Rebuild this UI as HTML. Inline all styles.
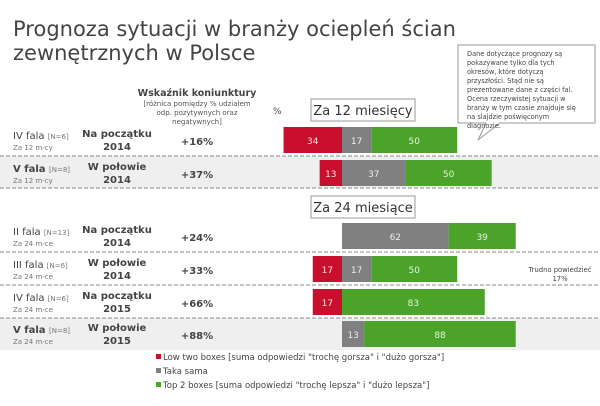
<!DOCTYPE html>
<html><head><meta charset="utf-8"><style>
body{margin:0;background:#fff;}
svg{display:block;font-family:"DejaVu Sans","Liberation Sans",sans-serif;}
</style></head><body>
<svg id="chart" width="600" height="406" viewBox="0 0 600 406" xmlns="http://www.w3.org/2000/svg">
<text x="13" y="36" font-size="21" fill="#444">Prognoza sytuacji w branży ociepleń ścian</text>
<text x="13" y="60" font-size="21" fill="#444">zewnętrznych w Polsce</text>
<rect x="0" y="156" width="600" height="32" fill="#efefef"/>
<rect x="0" y="318" width="600" height="32" fill="#efefef"/>
<g font-size="7" fill="#555" text-anchor="middle">
<text x="197" y="96" font-size="9.5" font-weight="bold" fill="#444">Wskaźnik koniunktury</text>
<text x="197" y="106">[różnica pomiędzy % udziałem</text>
<text x="197" y="115">odp. pozytywnych oraz</text>
<text x="197" y="124">negatywnych]</text>
</g>
<text x="273" y="114" font-size="9" fill="#444">%</text>
<rect x="311" y="99" width="104" height="22" fill="#fff" stroke="#999"/>
<text x="363" y="115" font-size="13" text-anchor="middle" fill="#333">Za 12 miesięcy</text>
<rect x="311" y="196" width="104" height="22" fill="#fff" stroke="#999"/>
<text x="363" y="212" font-size="13" text-anchor="middle" fill="#333">Za 24 miesiące</text>
<g>
<path d="M458,45 H595 V123 H500 L478,140 L486,123 H458 Z" fill="#fff" stroke="#999"/>
<g font-size="6.6" fill="#444">
<text x="467" y="56">Dane dotyczące prognozy są</text>
<text x="467" y="65">pokazywane tylko dla tych</text>
<text x="467" y="74">okresów, które dotyczą</text>
<text x="467" y="83">przyszłości. Stąd nie są</text>
<text x="467" y="92">prezentowane dane z części fal.</text>
<text x="467" y="101">Ocena rzeczywistej sytuacji w</text>
<text x="467" y="110">branży w tym czasie znajduje się</text>
<text x="467" y="119">na slajdzie poświęconym</text>
<text x="467" y="128">diagnozie.</text>
</g></g>
<g font-size="6.8" fill="#444" text-anchor="middle">
<text x="560" y="272">Trudno powiedzieć</text><text x="560" y="281">17%</text>
</g>
<g id="rows"></g>
<g font-size="8.5" fill="#444">
<rect x="156" y="354" width="5" height="5" fill="#c8102e"/><text x="163" y="360">Low two boxes [suma odpowiedzi "trochę gorsza" i "dużo gorsza"]</text>
<rect x="156" y="368" width="5" height="5" fill="#808080"/><text x="163" y="374">Taka sama</text>
<rect x="156" y="382" width="5" height="5" fill="#4ca32a"/><text x="163" y="388">Top 2 boxes [suma odpowiedzi "trochę lepsza" i "dużo lepsza"]</text>
</g>
</svg>
<script>
const waves=["IV fala","V fala","II fala","III fala","IV fala","V fala"];
const sizes=["[N=6]","[N=8]","[N=13]","[N=6]","[N=6]","[N=8]"];
const horizons=["Za 12 m-cy","Za 12 m-cy","Za 24 m-ce","Za 24 m-ce","Za 24 m-ce","Za 24 m-ce"];
const periods=["Na początku","W połowie","Na początku","W połowie","Na początku","W połowie"];
const years=["2014","2014","2014","2014","2015","2015"];
const indicators=["+16%","+37%","+24%","+33%","+66%","+88%"];
const lowVals=[34,13,0,17,17,0];
const sameVals=[17,37,62,17,0,13];
const topVals=[50,50,39,50,83,88];
const boldWave=[false,true,false,false,false,true];
const NS="http://www.w3.org/2000/svg";
const g=document.getElementById('rows');
const anchorX=342, scale=1.72;
function x(v){return anchorX+v*scale;}
const rowTops=[127,160,223,256,289,321];
function mk(t,a,p){const e=document.createElementNS(NS,t);for(const k in a)e.setAttribute(k,a[k]);(p||g).appendChild(e);return e;}
function txt(s,a,p){const e=mk('text',a,p);e.textContent=s;return e;}
const cols={low:"#c8102e",same:"#808080",top:"#4ca32a"};
for(let i=0;i<waves.length;i++){
  const y=rowTops[i];
  const row=mk('g',{});
  
  
  const w=txt('',{x:13,y:y+12,'font-size':10,fill:'#444','font-weight':boldWave[i]?'bold':'normal'},row);
  w.textContent=waves[i]+' ';
  const n=mk('tspan',{'font-size':7,'font-weight':'normal',fill:'#777'},w);n.textContent=sizes[i];
  txt(horizons[i],{x:13,y:y+23,'font-size':7,fill:'#777'},row);
  txt(periods[i],{x:117,y:y+10,'font-size':10,'font-weight':'bold',fill:'#444','text-anchor':'middle'},row);
  txt(years[i],{x:117,y:y+23,'font-size':10,'font-weight':'bold',fill:'#444','text-anchor':'middle'},row);
  const ind=txt(indicators[i],{x:197,y:y+18,'font-size':10,'font-weight':'bold',fill:'#444','text-anchor':'middle'},row);
  
  
  const segs=[["low",x(-lowVals[i]),x(0),lowVals[i]],["same",x(0),x(sameVals[i]),sameVals[i]],["top",x(sameVals[i]),x(sameVals[i]+topVals[i]),topVals[i]]];
  for(const s of segs){
    if(s[3]<=0)continue;
    const r=mk('rect',{x:s[1],y:y,width:s[2]-s[1],height:26,fill:cols[s[0]]},row);
    
    
    txt(String(s[3]),{x:(s[1]+s[2])/2,y:y+17,'font-size':9,fill:'#fff','text-anchor':'middle',opacity:0.85},row);
  }
  if(i!==1&&i!==5){
    const l=mk('line',{x1:0,x2:600,y1:y+29,y2:y+29,stroke:'#888','stroke-dasharray':'4,2','stroke-width':1},row);
    
    
  } else if(i===1){
    const l=mk('line',{x1:0,x2:600,y1:y+28,y2:y+28,stroke:'#888','stroke-dasharray':'4,2','stroke-width':1},row);
    
    
  }
}
</script>
</body></html>
